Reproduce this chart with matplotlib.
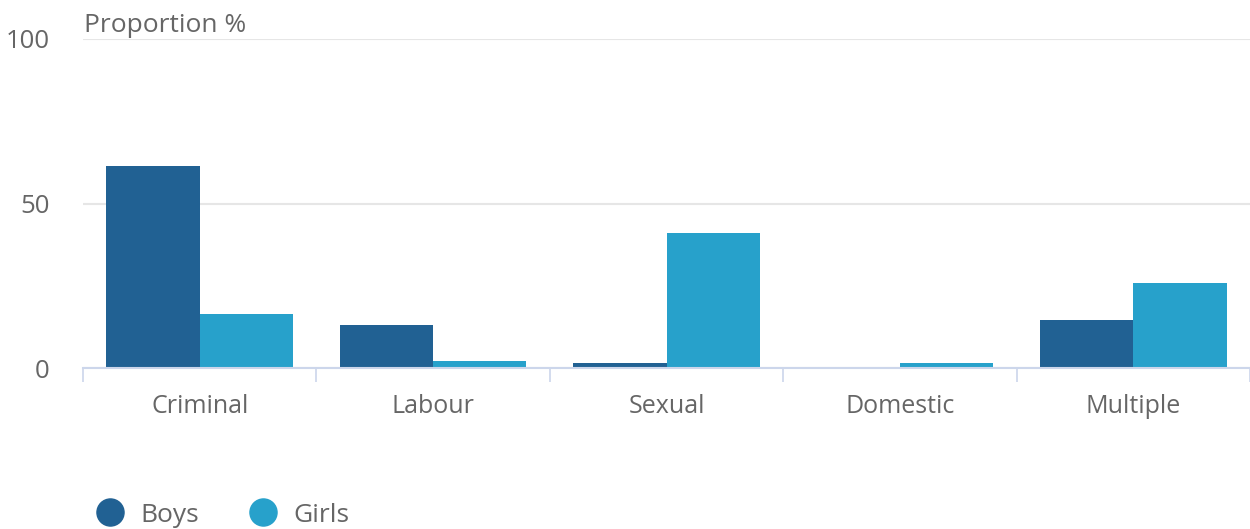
import matplotlib.pyplot as plt
from matplotlib.lines import Line2D
import numpy as np

plt.rcParams['font.family'] = ['Open Sans', 'DejaVu Sans']

categories = ['Criminal', 'Labour', 'Sexual', 'Domestic', 'Multiple']
boys = [61.5, 13.1, 1.5, 0.0, 14.6]
girls = [16.4, 2.1, 41.0, 1.5, 25.8]

boys_color = '#216193'
girls_color = '#27a1cb'
text_color = '#666666'
axis_color = '#ccd6eb'
grid_color = '#e6e6e6'

fig = plt.figure(figsize=(12.5, 5.29), dpi=100)
ax = fig.add_axes([0.0664, 0.3043, 0.9336, 0.622])

x = np.arange(len(categories))
width = 0.4
ax.bar(x - width / 2, boys, width, color=boys_color, zorder=3)
ax.bar(x + width / 2, girls, width, color=girls_color, zorder=3)

ax.set_xlim(-0.5, len(categories) - 0.5)
ax.set_ylim(0, 100)
ax.set_yticks([0, 50, 100])
ax.yaxis.grid(True, color=grid_color, linewidth=1.5, zorder=0)
ax.tick_params(axis='y', length=0, pad=24, labelsize=18.5, labelcolor=text_color)

# category labels centred, tick marks at category boundaries
ax.set_xticks(x)
ax.set_xticklabels(categories)
ax.tick_params(axis='x', which='major', length=0, pad=18.5, labelsize=18, labelcolor=text_color)
ax.set_xticks(np.arange(len(categories) + 1) - 0.5, minor=True)
ax.tick_params(axis='x', which='minor', length=10, width=1.2, color=axis_color)

for side in ['top', 'right', 'left']:
    ax.spines[side].set_visible(False)
ax.spines['bottom'].set_color(axis_color)
ax.spines['bottom'].set_linewidth(1.5)
ax.spines['bottom'].set_zorder(4)

fig.text(84 / 1250, 1 - 25 / 529, 'Proportion %', fontsize=19, color=text_color,
         ha='left', va='center')

handles = [
    Line2D([], [], marker='o', linestyle='', markersize=19.5, color=boys_color),
    Line2D([], [], marker='o', linestyle='', markersize=19.5, color=girls_color),
]
fig.legend(handles, ['Boys', 'Girls'], loc='center left',
           bbox_to_anchor=(97 / 1250, 1 - 515 / 529), ncol=2, frameon=False,
           fontsize=19, labelcolor=text_color, handletextpad=0.64,
           columnspacing=1.93, handlelength=1.0, borderpad=0, borderaxespad=0)

fig.savefig('out.png', dpi=100)
